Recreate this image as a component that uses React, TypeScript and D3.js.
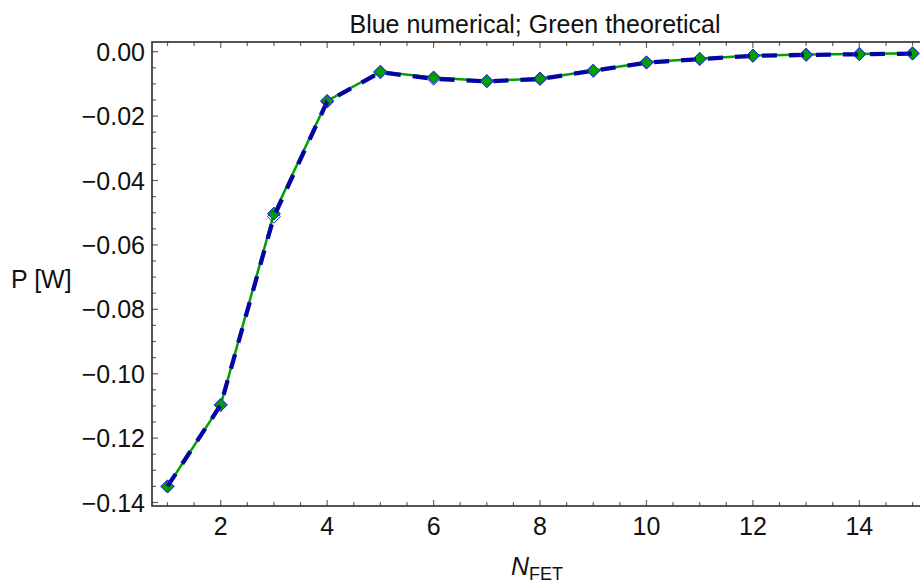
import React from "react";
import * as d3 from "d3";

const nValues = [1, 2, 3, 4, 5, 6, 7, 8, 9, 10, 11, 12, 13, 14, 15];
const theoretical = [-0.1350, -0.1097, -0.0503, -0.0153, -0.0062, -0.0080, -0.0091, -0.0083, -0.0059, -0.0033, -0.0022, -0.0012, -0.0009, -0.0007, -0.0005];
const numerical = [-0.1350, -0.1097, -0.0512, -0.0155, -0.0064, -0.0084, -0.0092, -0.0085, -0.0059, -0.0034, -0.0023, -0.0013, -0.0010, -0.0008, -0.0006];
const xMajorTicks = [2, 4, 6, 8, 10, 12, 14];
const yMajorTicks = [0, -0.02, -0.04, -0.06, -0.08, -0.1, -0.12, -0.14];

const W = 920;
const H = 586;
const FONT = "'Liberation Sans', Arial, sans-serif";

export default function App() {
  const x = d3.scaleLinear().domain([0.709, 15.29]).range([152, 928]);
  const y = d3.scaleLinear().domain([0, -0.14]).range([51.7, 502.5]);
  const top = 42;
  const bottom = 506;
  const left = 152;
  const right = 928;

  const xMinor = d3.range(1, 15.01, 0.5).filter((v) => !xMajorTicks.includes(v));
  const yMinor = d3.range(0, -0.1401, -0.005).filter(
    (v) => !yMajorTicks.some((t) => Math.abs(t - v) < 1e-9)
  );

  const line = d3
    .line<number>()
    .x((_, i) => x(nValues[i]))
    .y((d) => y(d));

  const diamond = (cx: number, cy: number, r: number) =>
    `M${cx},${cy - r}L${cx + r},${cy}L${cx},${cy + r}L${cx - r},${cy}Z`;

  const fmt = (v: number) => {
    const s = Math.abs(v).toFixed(2);
    return v < -1e-9 ? "\u2212" + s : s;
  };

  return (
    <svg
      width={W}
      height={H}
      style={{ position: "fixed", left: 0, top: 0, background: "#fff" }}
      fontFamily={FONT}
    >
      <rect x={0} y={0} width={W} height={H} fill="#fff" />
      {/* title */}
      <text x={535} y={33} fontSize={25} textAnchor="middle" fill="#111">
        Blue numerical; Green theoretical
      </text>

      {/* ticks */}
      <g stroke="#666" strokeWidth={1.2}>
        {xMajorTicks.map((t) => (
          <g key={"xm" + t}>
            <line x1={x(t)} x2={x(t)} y1={bottom} y2={bottom - 6} />
            <line x1={x(t)} x2={x(t)} y1={top} y2={top + 6} />
          </g>
        ))}
        {xMinor.map((t) => (
          <g key={"xn" + t}>
            <line x1={x(t)} x2={x(t)} y1={bottom} y2={bottom - 4} />
            <line x1={x(t)} x2={x(t)} y1={top} y2={top + 4} />
          </g>
        ))}
        {yMajorTicks.map((t) => (
          <line key={"ym" + t} x1={left} x2={left + 6} y1={y(t)} y2={y(t)} />
        ))}
        {yMinor.map((t) => (
          <line key={"yn" + t} x1={left} x2={left + 4} y1={y(t)} y2={y(t)} />
        ))}
      </g>

      {/* frame */}
      <rect
        x={left}
        y={top}
        width={right - left}
        height={bottom - top}
        fill="none"
        stroke="#2b2b2b"
        strokeWidth={1.6}
      />

      {/* tick labels */}
      <g fontSize={25} fill="#111">
        {xMajorTicks.map((t) => (
          <text key={"xl" + t} x={x(t)} y={535} textAnchor="middle">
            {t}
          </text>
        ))}
        {yMajorTicks.map((t) => (
          <text key={"yl" + t} x={145} y={y(t) + 9} textAnchor="end">
            {fmt(t)}
          </text>
        ))}
      </g>

      {/* axis labels */}
      <text x={11} y={288} fontSize={25} fill="#111">
        P [W]
      </text>
      <text x={537} y={575} fontSize={25} textAnchor="middle" fill="#111">
        <tspan fontStyle="italic">N</tspan>
        <tspan fontSize={18} dy={5}>FET</tspan>
      </text>

      {/* theoretical (green) */}
      <path d={line(theoretical) || ""} fill="none" stroke="#00a000" strokeWidth={2.5} />
      {theoretical.map((v, i) => (
        <path
          key={"g" + i}
          d={diamond(x(nValues[i]), y(v), 6.5)}
          fill="#00a000"
          stroke="#1f1fd0"
          strokeWidth={1}
        />
      ))}

      {/* numerical (blue) */}
      <path
        d={line(numerical) || ""}
        fill="none"
        stroke="#0505a5"
        strokeWidth={4.3}
        strokeDasharray="15 12"
      />
      {numerical.map((v, i) => (
        <path
          key={"b" + i}
          d={diamond(x(nValues[i]), y(v), 6.5)}
          fill="none"
          stroke="#3030e0"
          strokeWidth={1}
        />
      ))}
    </svg>
  );
}
